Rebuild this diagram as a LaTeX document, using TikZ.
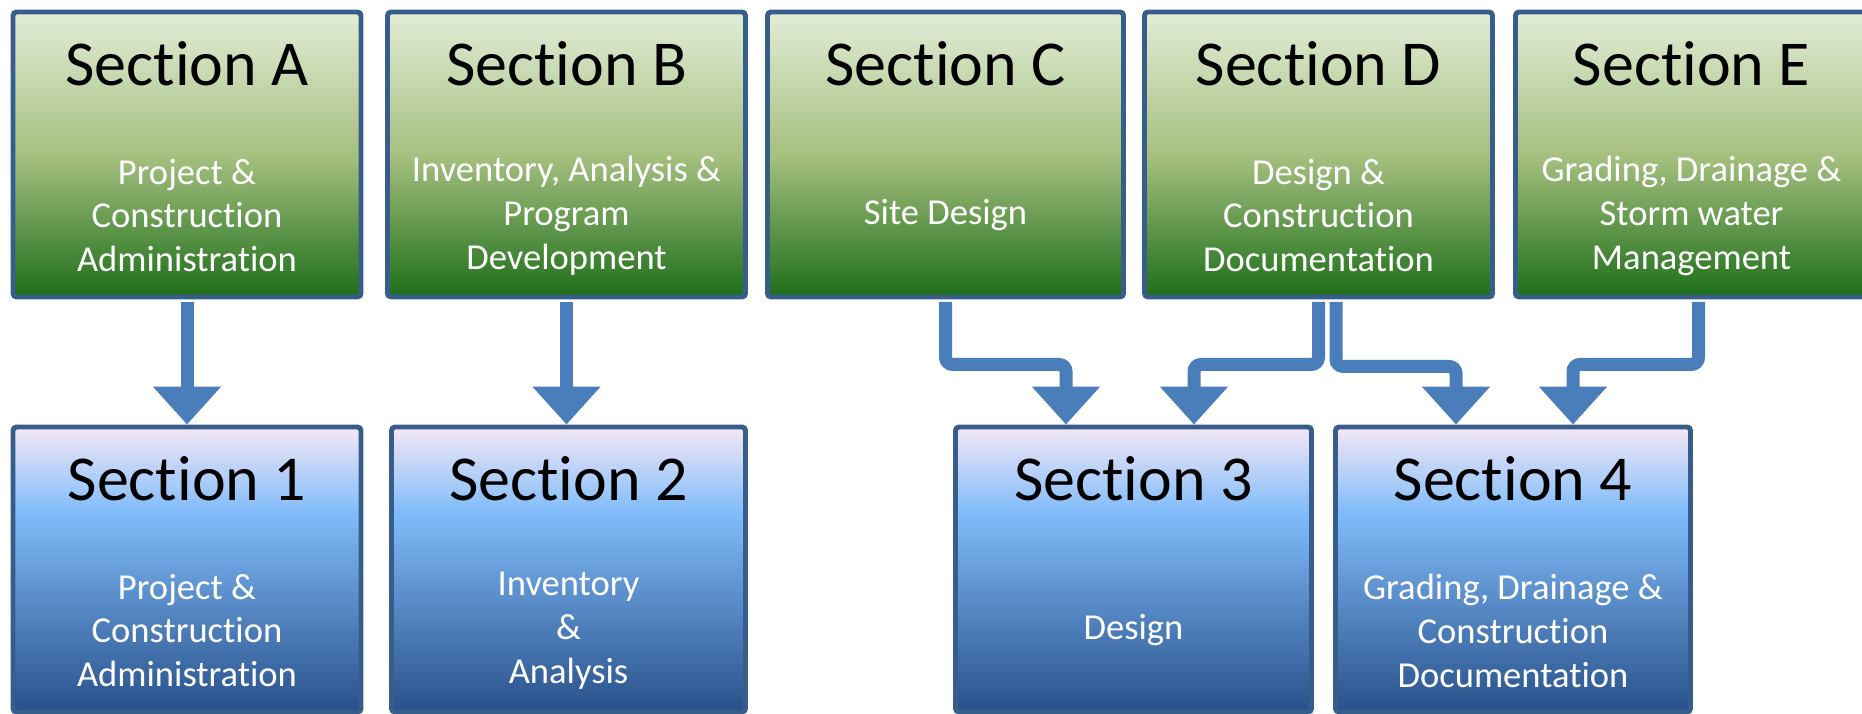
\documentclass[tikz,border=0pt]{standalone}
\usepackage{fontspec}
\setmainfont{Carlito}[Ligatures=CommonOff]
\usepackage{tikz}
\usetikzlibrary{arrows.meta}

\definecolor{edgeblue}{RGB}{56,93,138}
\definecolor{flowblue}{RGB}{74,126,187}
\definecolor{greentop}{RGB}{226,236,214}
\definecolor{greenmid}{RGB}{166,192,128}
\definecolor{greenbot}{RGB}{29,110,25}
\definecolor{bluetop}{RGB}{245,232,246}
\definecolor{bluemid}{RGB}{128,188,250}
\definecolor{bluebot}{RGB}{40,80,138}
\pgfdeclareverticalshading{greenfade}{100bp}{color(0bp)=(greenbot); color(25bp)=(greenbot); color(50bp)=(greenmid); color(75bp)=(greentop); color(100bp)=(greentop)}
\pgfdeclareverticalshading{bluefade}{100bp}{color(0bp)=(bluebot); color(25bp)=(bluebot); color(60bp)=(bluemid); color(75bp)=(bluetop); color(100bp)=(bluetop)}

\begin{document}
\begin{tikzpicture}
    \tikzset{
        box/.style={draw=edgeblue, line width=1.4pt, rounded corners=1pt, minimum height=2.85cm, inner sep=0pt},
        upper/.style={box, shade, shading=greenfade},
        lower/.style={box, shade, shading=bluefade},
        head/.style={anchor=base, inner sep=0pt, font=\fontsize{18.2}{22}\selectfont},
        sub/.style={inner sep=0pt, align=center, text=white, font=\fontsize{10.4}{12.5}\selectfont},
        flow/.style={draw=flowblue, line width=3.7pt, rounded corners=2pt, shorten <=0.7pt, -{Triangle[width=6.6mm,length=3.8mm]}}
    }
    \useasboundingbox (0,0) rectangle (18.62,7.14);
    \clip (0,0) rectangle (18.62,7.14);

    % top row
    \node[upper, minimum width=3.48cm] (A) at (1.87,5.595) {};
    \node[upper, minimum width=3.58cm] (B) at (5.665,5.595) {};
    \node[upper, minimum width=3.56cm] (C) at (9.455,5.595) {};
    \node[upper, minimum width=3.48cm] (D) at (13.185,5.595) {};
    \node[upper, minimum width=3.52cm] (E) at (16.915,5.595) {};

    % bottom row
    \node[lower, minimum width=3.48cm] (n1) at (1.87,1.445) {};
    \node[lower, minimum width=3.54cm] (n2) at (5.685,1.445) {};
    \node[lower, minimum width=3.56cm] (n3) at (11.335,1.445) {};
    \node[lower, minimum width=3.55cm] (n4) at (15.13,1.445) {};

    \node[head] (A-h) at ([yshift=-7.6mm]A.north) {Section A};
    \node[sub] (A-s) at ([yshift=-20.6mm]A.north) {Project \&\\Construction\\Administration};
    \node[head] (B-h) at ([yshift=-7.6mm]B.north) {Section B};
    \node[sub] (B-s) at ([yshift=-20.6mm]B.north) {Inventory, Analysis \&\\Program\\Development};
    \node[head] (C-h) at ([yshift=-7.6mm]C.north) {Section C};
    \node[sub] (C-s) at ([yshift=-20.6mm]C.north) {Site Design};
    \node[head] (D-h) at ([yshift=-7.6mm]D.north) {Section D};
    \node[sub] (D-s) at ([yshift=-20.6mm]D.north) {Design \&\\Construction\\Documentation};
    \node[head] (E-h) at ([yshift=-7.6mm]E.north) {Section E};
    \node[sub] (E-s) at ([yshift=-20.6mm]E.north) {Grading, Drainage \&\\Storm water\\Management};

    \node[head] (n1-h) at ([yshift=-7.6mm]n1.north) {Section 1};
    \node[sub] (n1-s) at ([yshift=-20.6mm]n1.north) {Project \&\\Construction\\Administration};
    \node[head] (n2-h) at ([yshift=-7.6mm]n2.north) {Section 2};
    \node[sub] (n2-s) at ([yshift=-20.6mm]n2.north) {Inventory\\\&\\Analysis};
    \node[head] (n3-h) at ([yshift=-7.6mm]n3.north) {Section 3};
    \node[sub] (n3-s) at ([yshift=-20.6mm]n3.north) {Design};
    \node[head] (n4-h) at ([yshift=-7.6mm]n4.north) {Section 4};
    \node[sub] (n4-s) at ([yshift=-20.6mm]n4.north) {Grading, Drainage \&\\Construction\\Documentation};

    % arrows
    \draw[flow] (A.south) -- (n1.north);
    \draw[flow] (B.south) -- (B.south |- n2.north);
    \draw[flow] (C.south) -- ++(0,-0.65) -| ([xshift=-6.75mm]n3.north);
    \draw[flow] (D.south) -- ++(0,-0.65) -| ([xshift=6.05mm]n3.north);
    \draw[flow] ([xshift=1.75mm]D.south) -- ++(0,-0.67) -| ([xshift=-5.7mm]n4.north);
    \draw[flow] ([xshift=0.7mm]E.south) -- ++(0,-0.65) -| ([xshift=6mm]n4.north);
\end{tikzpicture}
\end{document}
